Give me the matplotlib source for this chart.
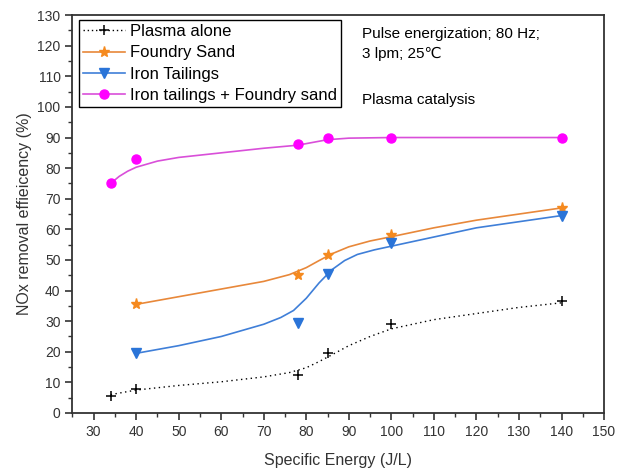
import matplotlib
matplotlib.use("Agg")
import matplotlib.pyplot as plt
from matplotlib.ticker import MultipleLocator

plt.rcParams['font.family'] = ['Liberation Sans', 'DejaVu Sans']

# ---------------------------------------------------------------- data
# measured points
plasma_x = [34, 40, 78, 85, 100, 140]
plasma_y = [5.7, 8.0, 12.5, 19.5, 29.0, 36.5]
foundry_x = [40, 78, 85, 100, 140]
foundry_y = [35.5, 45.0, 51.5, 58.0, 67.0]
iron_x = [40, 78, 85, 100, 140]
iron_y = [19.5, 29.5, 45.5, 55.5, 64.5]
combo_x = [34, 40, 78, 85, 100, 140]
combo_y = [75.0, 83.0, 88.0, 90.0, 90.0, 90.0]

# fitted curves
plasma_fit_x = [34, 40, 50, 60, 70, 76, 80, 83, 86, 90, 95, 100, 110, 120, 130, 140]
plasma_fit_y = [6.0, 7.5, 9.0, 10.2, 11.8, 13.2, 14.8, 16.8, 19.0, 22.0, 25.0, 27.5, 30.5, 32.5, 34.5, 36.0]
foundry_fit_x = [40, 50, 60, 70, 76, 80, 83, 86, 90, 95, 100, 110, 120, 130, 140]
foundry_fit_y = [35.5, 38.0, 40.5, 43.0, 45.2, 47.5, 49.8, 52.0, 54.3, 56.2, 57.6, 60.5, 63.0, 65.0, 67.0]
iron_fit_x = [40, 50, 60, 70, 74, 77, 80, 83, 86, 89, 92, 96, 100, 110, 120, 130, 140]
iron_fit_y = [19.5, 22.0, 25.0, 29.0, 31.2, 33.5, 37.5, 42.5, 46.8, 49.8, 51.8, 53.3, 54.5, 57.5, 60.5, 62.5, 64.5]
combo_fit_x = [34, 36, 38, 40, 45, 50, 60, 70, 78, 85, 90, 100, 140]
combo_fit_y = [75.0, 77.3, 79.0, 80.3, 82.3, 83.5, 85.0, 86.5, 87.5, 89.3, 89.8, 90.0, 90.0]


# ---------------------------------------------------------------- plot
fig = plt.figure(figsize=(6.24, 4.72), dpi=100)
ax = fig.add_axes([0.116, 0.125, 0.852, 0.843])

# curves
ax.plot(plasma_fit_x, plasma_fit_y, color='black', lw=1.0, ls=(0, (1, 2.5)))
ax.plot(foundry_fit_x, foundry_fit_y, color='#e8883a', lw=1.2)
ax.plot(iron_fit_x, iron_fit_y, color='#3f7fd8', lw=1.2)
ax.plot(combo_fit_x, combo_fit_y, color='#d94fd9', lw=1.2)

# markers
ax.plot(plasma_x, plasma_y, ls='none', marker='+', ms=6.5, mew=1.1, color='black')
ax.plot(foundry_x, foundry_y, ls='none', marker='*', ms=8, color='#f58a1f')
ax.plot(iron_x, iron_y, ls='none', marker='v', ms=7, color='#2a74d8')
ax.plot(combo_x, combo_y, ls='none', marker='o', ms=6.5, color='#ff00ff')

# legend handles
h1, = ax.plot([], [], color='black', lw=1.0, ls=(0, (1, 2)), marker='+', ms=6.5, mew=1.1)
h2, = ax.plot([], [], color='#e8883a', lw=1.2, marker='*', ms=8, mfc='#f58a1f', mec='#f58a1f')
h3, = ax.plot([], [], color='#3f7fd8', lw=1.2, marker='v', ms=7, mfc='#2a74d8', mec='#2a74d8')
h4, = ax.plot([], [], color='#d94fd9', lw=1.2, marker='o', ms=6.5, mfc='#ff00ff', mec='#ff00ff')
leg = ax.legend([h1, h2, h3, h4],
                ['Plasma alone', 'Foundry Sand', 'Iron Tailings', 'Iron tailings + Foundry sand'],
                loc='upper left', bbox_to_anchor=(0.012, 0.988), fontsize=12,
                frameon=True, fancybox=False, edgecolor='black', framealpha=1,
                handlelength=2.5, handletextpad=0.3, labelspacing=0.38, borderpad=0.25,
                borderaxespad=0.0)
leg.get_frame().set_linewidth(1.0)

ax.text(0.545, 0.97, 'Pulse energization; 80 Hz;\n3 lpm; 25\u2103', transform=ax.transAxes,
        fontsize=11, va='top', ha='left', linespacing=1.5)
ax.text(0.545, 0.805, 'Plasma catalysis', transform=ax.transAxes,
        fontsize=11, va='top', ha='left')

ax.set_xlim(25, 150)
ax.set_ylim(0, 130)
ax.xaxis.set_major_locator(MultipleLocator(10))
ax.xaxis.set_minor_locator(MultipleLocator(5))
ax.yaxis.set_major_locator(MultipleLocator(10))
ax.yaxis.set_minor_locator(MultipleLocator(5))
ax.tick_params(which='both', direction='out', top=False, right=False, labelsize=10, colors='#333333')
ax.tick_params(which='major', length=5, width=1.2)
ax.tick_params(which='minor', length=3, width=1.0)
for s in ax.spines.values():
    s.set_linewidth(1.3)
    s.set_color('#333333')

ax.set_xlabel('Specific Energy (J/L)', fontsize=11.5, color='#333333', labelpad=10)
ax.set_ylabel('NOx removal effieicency (%)', fontsize=11.5, color='#333333', labelpad=4)

fig.savefig('out.png', dpi=100)
